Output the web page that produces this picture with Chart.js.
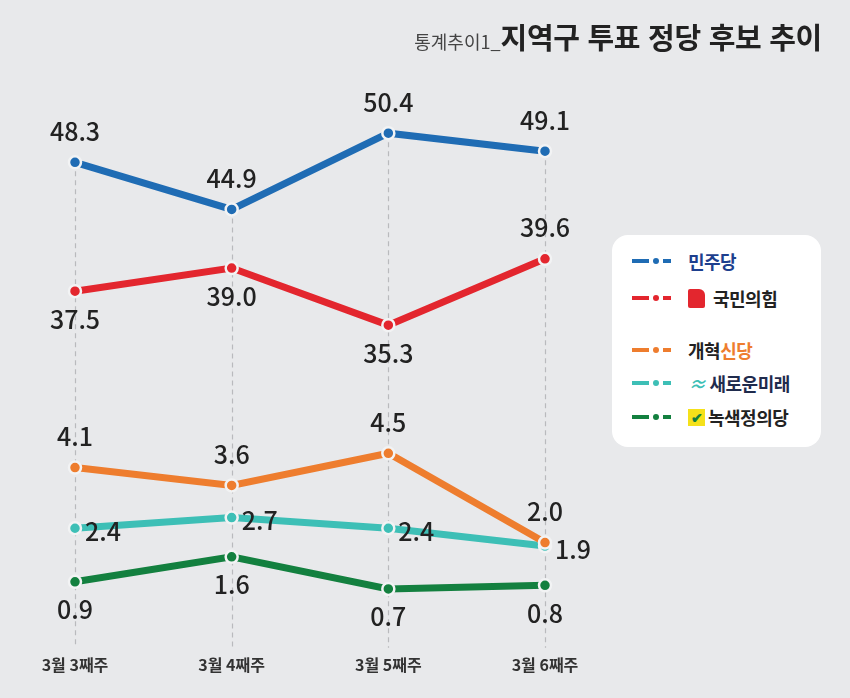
<!DOCTYPE html>
<html lang="ko">
<head>
<meta charset="utf-8">
<script src="https://cdn.jsdelivr.net/npm/chart.js@4.4.1/dist/chart.umd.min.js"></script>
<style>
  html, body { margin: 0; padding: 0; background: #e8e9eb; }
  #wrap { position: relative; width: 850px; height: 698px; background: #e8e9eb; font-family: "Noto Sans CJK KR", "Noto Sans", sans-serif; }
  #title { position: absolute; right: 28px; top: 15px; white-space: nowrap; color: #222; }
  #title .sub { font-size: 18px; color: #444; font-weight: 400; }
  #title .main { font-size: 29px; font-weight: 700; letter-spacing: -0.3px; }
  #legend { position: absolute; left: 612px; top: 235px; width: 209px; height: 212px; background: #fff; border-radius: 16px; }
  .item { position: absolute; left: 20px; height: 24px; display: flex; align-items: center; font-weight: 700; font-size: 18px; letter-spacing: -0.5px; }
  .ico { position: relative; width: 38px; height: 24px; margin-right: 18px; }
  .ico i { position: absolute; top: 10px; height: 4px; }
  .ico i.a { left: 0; width: 17px; }
  .ico i.b { left: 21px; width: 6px; height: 6px; top: 9px; border-radius: 50%; }
  .ico i.c { left: 31px; width: 8px; }
</style>
</head>
<body>
<div id="wrap">
  <canvas id="Chart" width="850" height="698"></canvas>
  <div id="title"><span class="sub">통계추이1_</span><span class="main">지역구 투표 정당 후보 추이</span></div>
  <div id="legend"></div>
</div>
<script>
const weeks = ["3월 3째주", "3월 4째주", "3월 5째주", "3월 6째주"];
const partyNames = ["민주당", "국민의힘", "개혁신당", "새로운미래", "녹색정의당"];
const minjoo = [48.3, 44.9, 50.4, 49.1];
const ppp = [37.5, 39.0, 35.3, 39.6];
const reform = [4.1, 3.6, 4.5, 2.0];
const newFuture = [2.4, 2.7, 2.4, 1.9];
const greenJustice = [0.9, 1.6, 0.7, 0.8];

const colors = ["#1f6cb4", "#e3262e", "#ee7d2e", "#3dbfb6", "#13803f"];
// where each value label sits relative to its point
const labelPos = [
  ["above", "above", "above", "above"],
  ["below", "below", "below", "above"],
  ["above", "above", "above", "above"],
  ["right", "right", "right", "right"],
  ["below", "below", "below", "below"],
];
const FONT = '"Noto Sans CJK KR", "Noto Sans", sans-serif';

// dashed vertical guides from the top point down to the axis
const guides = {
  id: "guides",
  beforeDatasetsDraw(chart) {
    const { ctx, chartArea } = chart;
    const top = chart.getDatasetMeta(0).data;
    ctx.save();
    ctx.strokeStyle = "#b9babd";
    ctx.lineWidth = 1.2;
    ctx.setLineDash([5, 4]);
    top.forEach((pt) => {
      ctx.beginPath();
      ctx.moveTo(Math.round(pt.x) + 0.5, pt.y);
      ctx.lineTo(Math.round(pt.x) + 0.5, chartArea.bottom);
      ctx.stroke();
    });
    ctx.restore();
  },
};

const valueLabels = {
  id: "valueLabels",
  afterDatasetsDraw(chart) {
    const { ctx } = chart;
    ctx.save();
    ctx.font = "500 25px " + FONT;
    ctx.fillStyle = "#222";
    ctx.textBaseline = "middle";
    chart.data.datasets.forEach((ds, i) => {
      chart.getDatasetMeta(i).data.forEach((pt, j) => {
        const txt = ds.data[j].toFixed(1);
        const pos = labelPos[i][j];
        let x = pt.x, y = pt.y;
        ctx.textAlign = "center";
        if (pos === "above") y -= 31;
        else if (pos === "below") y += 28;
        else { ctx.textAlign = "left"; x += 10; y += 3; }
        ctx.fillText(txt, x, y);
      });
    });
    ctx.restore();
  },
};

const series = [minjoo, ppp, reform, newFuture, greenJustice];
const axisFor = ["yBlue", "yRed", "yLow", "yLow", "yLow"];

new Chart(document.getElementById("Chart"), {
  type: "line",
  data: {
    labels: weeks,
    datasets: series.map((vals, i) => ({
      label: partyNames[i],
      data: vals,
      yAxisID: axisFor[i],
      borderColor: colors[i],
      backgroundColor: colors[i],
      borderWidth: 7,
      pointRadius: 6,
      pointBackgroundColor: colors[i],
      pointBorderColor: "#f2f3f4",
      pointBorderWidth: 2.5,
      tension: 0,
    })),
  },
  options: {
    responsive: false,
    animation: false,
    layout: { padding: { left: 75, right: 305, top: 100, bottom: 23 } },
    plugins: { legend: { display: false }, tooltip: { enabled: false } },
    scales: {
      x: {
        offset: false,
        grid: { display: false },
        border: { display: false },
        ticks: { color: "#333", padding: 0, font: { family: FONT, size: 16, weight: "600" } },
      },
      yBlue: { display: false, min: 13.3, max: 52.79 },
      yRed: { display: false, min: 14.39, max: 49.89 },
      yLow: { display: false, min: -0.95, max: 14.4 },
    },
  },
  plugins: [guides, valueLabels],
});

// legend box
const legendTops = [14, 51, 103, 136, 170];
const legend = document.getElementById("legend");
const nameHtml = [
  '<span style="color:#1d3f8e">민주당</span>',
  '<span style="display:inline-block;width:17px;height:19px;background:#e3262e;border-radius:2px 6px 2px 2px;margin-right:8px"></span><span style="color:#222">국민의힘</span>',
  '<span style="color:#222">개혁</span><span style="color:#ee7d2e">신당</span>',
  '<span style="color:#3dbfb6;margin-right:4px;font-style:italic">≈</span><span style="color:#1f2b4d">새로운미래</span>',
  '<span style="display:inline-block;width:17px;height:17px;background:#f5e11a;color:#13803f;font-size:14px;line-height:17px;text-align:center;margin-right:3px">✔</span><span style="color:#222">녹색정의당</span>',
];
partyNames.forEach((name, i) => {
  const el = document.createElement("div");
  el.className = "item";
  el.style.top = legendTops[i] + "px";
  el.innerHTML =
    '<span class="ico"><i class="a" style="background:' + colors[i] + '"></i><i class="b" style="background:' + colors[i] +
    '"></i><i class="c" style="background:' + colors[i] + '"></i></span>' + nameHtml[i];
  legend.appendChild(el);
});
</script>
</body>
</html>
